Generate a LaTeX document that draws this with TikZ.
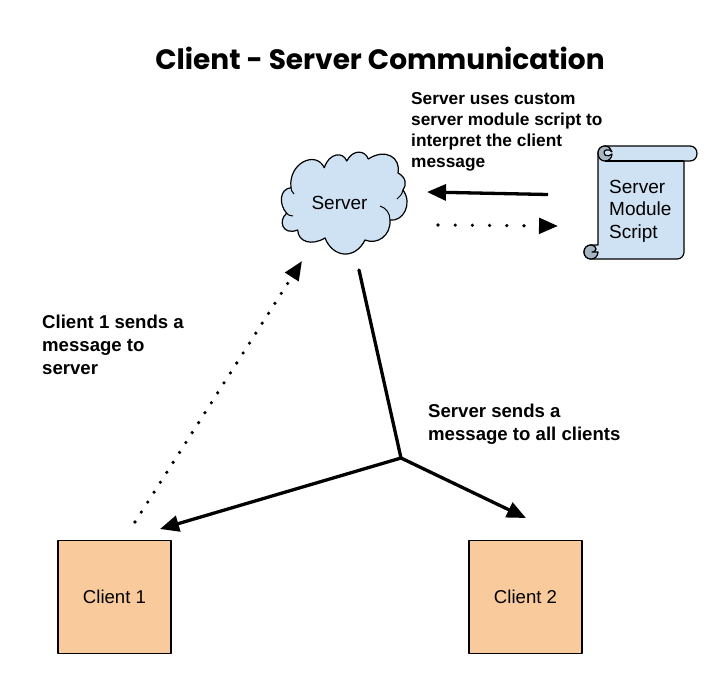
\documentclass[tikz,border=0pt]{standalone}
\usepackage{fontspec}
\setmainfont{Liberation Sans}
\newfontfamily\titlefont{Poppins}
\usetikzlibrary{arrows.meta}
\definecolor{paleblue}{HTML}{CFE2F3}
\definecolor{paleorange}{HTML}{F9CB9C}
\definecolor{curlgray}{HTML}{A6B5C2}
\tikzset{
  x=1pt,y=-1pt,
  shapeline/.style={draw=black,line width=1.2pt,line join=round},
  clientbox/.style={shapeline,fill=paleorange,minimum width=113pt,minimum height=113pt,inner sep=0pt,font=\fontsize{18.6}{21}\selectfont},
  plain/.style={inner sep=0pt,font=\fontsize{19}{22}\selectfont},
  note/.style={inner sep=0pt,anchor=north west,align=left,font=\fontsize{18.6}{23}\selectfont\bfseries},
  solidarrow/.style={line width=3.3pt,-{Triangle[length=19pt,width=16pt]}},
  dotarrow/.style={line width=3.6pt,line cap=round,dash pattern=on 0pt off 11.8pt,-{Triangle[length=19pt,width=15.5pt]}},
  widedotarrow/.style={dotarrow,dash pattern=on 0pt off 17.2pt},
  trunk/.style={line width=3.3pt,line cap=round},
}
\begin{document}
\begin{tikzpicture}
\useasboundingbox (0,0) rectangle (726,686);
\node[inner sep=0pt,font=\titlefont\fontsize{28}{32}\selectfont\bfseries] (title) at (380,58) {Client - Server Communication};

% cloud
\draw[shapeline,fill=paleblue]
 (286.7,213.3)
 .. controls (279,205) and (279,189) .. (291,187.7)
 .. controls (288,163) and (316,150) .. (324.3,167.7)
 .. controls (329,153) and (343,151) .. (346.7,161)
 .. controls (353,149) and (365,150) .. (368.3,159)
 .. controls (385,148) and (401,157) .. (398,173)
 .. controls (406,177) and (407,185) .. (403,190)
 .. controls (413,204) and (403,222) .. (390,220)
 .. controls (391,236) and (377,245) .. (365,240)
 .. controls (355,260) and (333,258) .. (325,238)
 .. controls (312,246) and (298,242) .. (297.7,230)
 .. controls (282,236) and (278,220) .. (286.7,213.3) -- cycle;
\draw[shapeline,line width=1pt]
 (291,187.7) .. controls (291,190) and (292,192) .. (294,194)
 (403,190) .. controls (402,194) and (400,197) .. (397,199)
 (390,220) .. controls (390,213) and (386,208) .. (380,206)
 (286.7,213.3) .. controls (288,215) and (290,216) .. (293,216);
\node[plain] (server) at (339.5,203) {Server};

% scroll
\draw[shapeline,fill=paleblue]
 (598,153) .. controls (598,149) and (601,146) .. (605,146) -- (690,146)
 .. controls (694,146) and (697,149) .. (697,153.5) .. controls (697,158) and (694,161) .. (690,161)
 -- (684,161) -- (684,252) .. controls (684,256) and (681,259) .. (677,259)
 -- (591,259) .. controls (587,259) and (584,256) .. (584,252)
 .. controls (584,248) and (587,245) .. (591,245) -- (598,245) -- cycle;
\draw[shapeline,fill=curlgray]
 (591,259) .. controls (587,259) and (584,256) .. (584,252)
 .. controls (584,248) and (587,245) .. (591,245)
 .. controls (594,245) and (596,247) .. (596,249)
 .. controls (596,252) and (593,252) .. (592,252)
 -- (598,252) .. controls (598,256) and (595,259) .. (591,259) -- cycle;
\draw[shapeline,fill=curlgray]
 (605,146) .. controls (601,146) and (598,149) .. (598,153)
 .. controls (598,158) and (601,161) .. (605,161)
 .. controls (609,161) and (612,158) .. (612,154)
 .. controls (610,156) and (608,156) .. (606,155.5)
 .. controls (604,155) and (603,151) .. (606,150)
 .. controls (608,149) and (611,150) .. (612,152)
 .. controls (611,149) and (609,146) .. (605,146) -- cycle;
\draw[shapeline] (605,161) -- (684,161);
\node[plain,anchor=north west,align=left,font=\fontsize{19}{22.5}\selectfont] (script) at (609,180) {Server\\Module\\Script};

% clients
\node[clientbox] (c1) at (114.5,597) {Client 1};
\node[clientbox] (c2) at (525.5,597) {Client 2};

% notes
\node[note,font=\fontsize{17.3}{21}\selectfont\bfseries] (n1) at (411,92) {Server uses custom\\server module script to\\interpret the client\\message};
\node[note] (n2) at (42,314.5) {Client 1 sends a\\message to\\server};
\node[note] (n3) at (428,403.5) {Server sends a\\message to all clients};

% connector ends
\coordinate (scriptout) at (548,194.5);
\coordinate (serverin) at (427,192);
\coordinate (serverout) at (438,225);
\coordinate (scriptin) at (558,226);
\coordinate (clientout) at (135,522);
\coordinate (serverin2) at (302,261);
\coordinate (trunktop) at (359,270);
\coordinate (junction) at (401,458);
\coordinate (c1in) at (160,529);
\coordinate (c2in) at (526,518);

\draw[solidarrow] (scriptout) -- (serverin);
\draw[widedotarrow] (serverout) -- (scriptin);
\draw[dotarrow] (clientout) -- (serverin2);
\draw[trunk] (trunktop) -- (junction);
\draw[solidarrow] (junction) -- (c1in);
\draw[solidarrow] (junction) -- (c2in);
\end{tikzpicture}
\end{document}
